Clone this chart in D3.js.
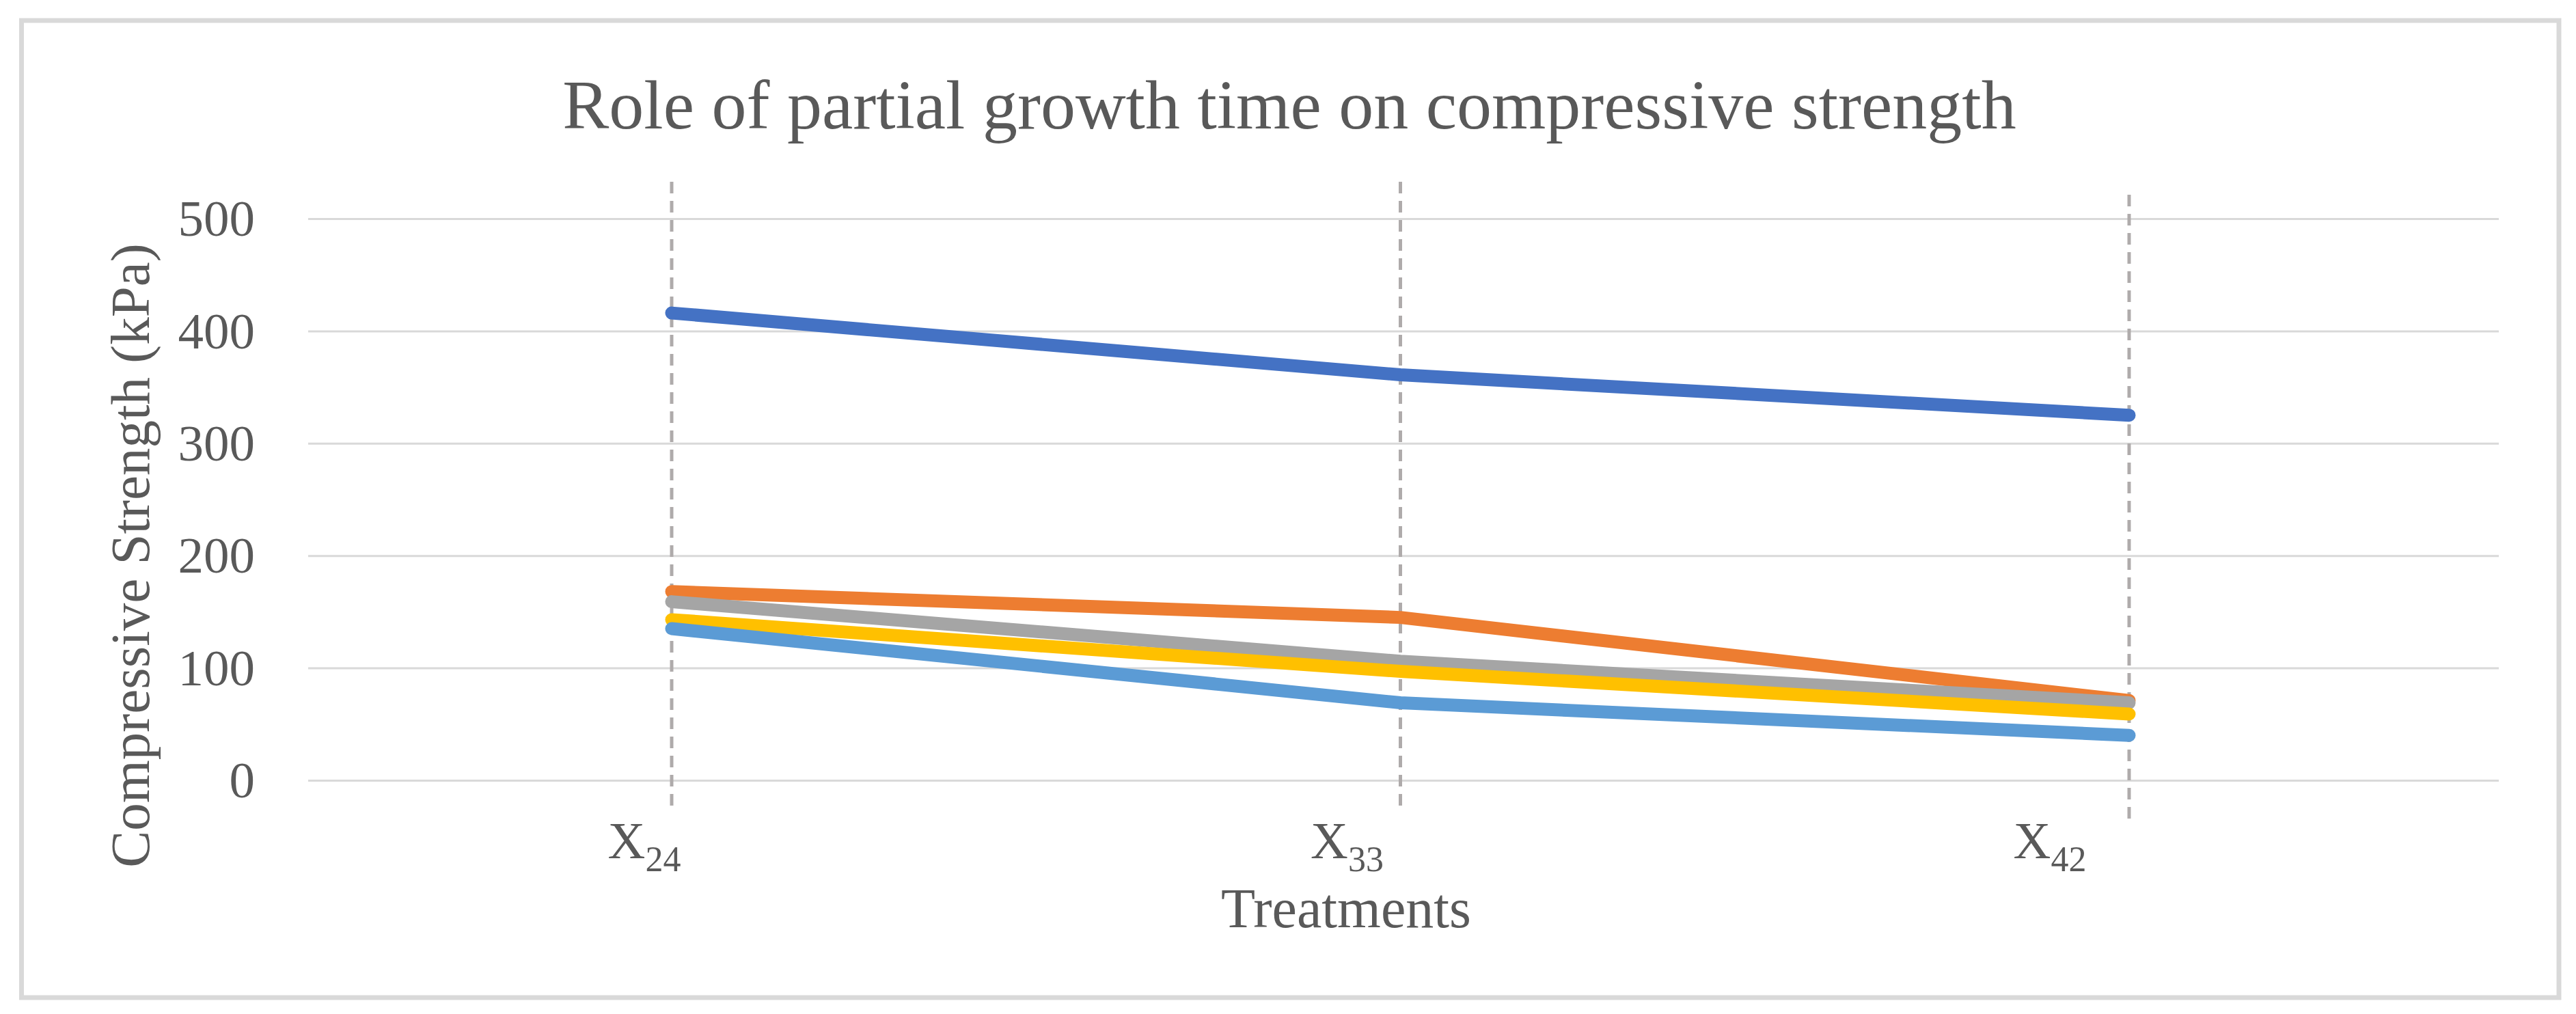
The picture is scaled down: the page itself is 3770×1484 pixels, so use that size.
<!DOCTYPE html>
<html>
<head>
<meta charset="utf-8">
<script src="https://cdn.jsdelivr.net/npm/d3@7"></script>
<style>
    body { margin: 0; background: #fff; }
    svg { display: block; }
</style>
</head>
<body>
<svg class="chart-svg" width="3770" height="1484"></svg>
<script>
// chart data
let treatments = ["X24", "X33", "X42"]
let treatmentBase = ["X", "X", "X"]
let treatmentSub = ["24", "33", "42"]
let seriesNames = ["Series 1", "Series 2", "Series 3", "Series 4", "Series 5"]
let series1 = [416, 361, 325]
let series2 = [168, 145, 71]
let series3 = [159, 106, 69]
let series4 = [143, 97, 59]
let series5 = [135, 69, 40]
let yTickValues = [0, 100, 200, 300, 400, 500]
let titleText = "Role of partial growth time on compressive strength"
let xTitleText = "Treatments"
let yTitleText = "Compressive Strength (kPa)"

let allSeries = [series1, series2, series3, series4, series5]
let colors = ["#4472C4", "#ED7D31", "#A5A5A5", "#FFC000", "#5B9BD5"]
let textColor = "#595959"
let fontFamily = "'Liberation Serif', 'DejaVu Serif', serif"

let svg = d3.select(".chart-svg")

//outer frame
svg.append("rect")
    .attr("x", 31.5)
    .attr("y", 30)
    .attr("width", 3713.5)
    .attr("height", 1430)
    .attr("fill", "#fff")
    .attr("stroke", "#d9d9d9")
    .attr("stroke-width", 7)

//plot area
let plotLeft = 451
let plotRight = 3657
let plotTop = 320
let plotBottom = 1142

let yScale = d3.scaleLinear()
    .domain([0, 500])
    .range([plotBottom, plotTop])

let xScale = d3.scalePoint()
    .domain(treatments)
    .range([983, 3116])

// category labels sit a little left of the data points
let xLabelScale = d3.scalePoint()
    .domain(treatments)
    .range([943, 3000])

//gridlines
let yAxis = d3.axisLeft(yScale)
    .tickValues(yTickValues)
    .tickSize(-(plotRight - plotLeft))
    .tickPadding(78)
let gy = svg.append("g")
    .attr("transform", "translate(" + plotLeft + ",0)")
    .call(yAxis)
gy.select(".domain").remove()
gy.selectAll(".tick line")
    .attr("stroke", "#d9d9d9")
    .attr("stroke-width", 3)
gy.selectAll(".tick text")
    .attr("fill", textColor)
    .attr("font-family", fontFamily)
    .attr("font-size", 75)
    .attr("dy", "0.33em")

//dashed drop lines
let dashTop = [266, 266, 285]
let dashBottom = [1180, 1182, 1198]
svg.append("g")
    .selectAll("line")
    .data(treatments)
    .join("line")
    .attr("x1", d => xScale(d))
    .attr("x2", d => xScale(d))
    .attr("y1", (d, i) => dashTop[i])
    .attr("y2", (d, i) => dashBottom[i])
    .attr("stroke", "#afabab")
    .attr("stroke-width", 5)
    .attr("stroke-dasharray", "17,11")

//series lines
let line = d3.line()
    .x((d, i) => xScale(treatments[i]))
    .y(d => yScale(d))
svg.append("g")
    .selectAll("path")
    .data(allSeries)
    .join("path")
    .attr("d", d => line(d))
    .attr("fill", "none")
    .attr("stroke", (d, i) => colors[i])
    .attr("stroke-width", 19)
    .attr("stroke-linecap", "round")
    .attr("stroke-linejoin", "round")

//category labels with subscripts
let xLabels = svg.append("g")
    .selectAll("text")
    .data(treatments)
    .join("text")
    .attr("x", d => xLabelScale(d))
    .attr("y", 1256)
    .attr("text-anchor", "middle")
    .attr("fill", textColor)
    .attr("font-family", fontFamily)
    .attr("font-size", 76)
xLabels.append("tspan")
    .text((d, i) => treatmentBase[i])
xLabels.append("tspan")
    .attr("dy", 19)
    .attr("font-size", 52)
    .text((d, i) => treatmentSub[i])

//titles
svg.append("text")
    .attr("x", 1887)
    .attr("y", 188)
    .attr("text-anchor", "middle")
    .attr("fill", textColor)
    .attr("font-family", fontFamily)
    .attr("font-size", 102)
    .text(titleText)

svg.append("text")
    .attr("x", 1970)
    .attr("y", 1357)
    .attr("text-anchor", "middle")
    .attr("fill", textColor)
    .attr("font-family", fontFamily)
    .attr("font-size", 82)
    .text(xTitleText)

svg.append("text")
    .attr("transform", "translate(218,813) rotate(-90)")
    .attr("text-anchor", "middle")
    .attr("fill", textColor)
    .attr("font-family", fontFamily)
    .attr("font-size", 81)
    .text(yTitleText)
</script>
</body>
</html>
